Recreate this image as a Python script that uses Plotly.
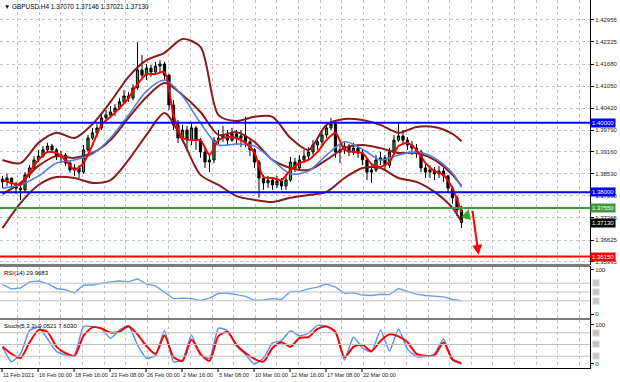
import plotly.graph_objects as go

# ---------------- data (GBPUSD H4, each candle = 2 H4 bars) ----------------
first_open = 1.3838
close = [1.3830, 1.3841, 1.3824, 1.3812, 1.3807, 1.3850, 1.3870, 1.3893, 1.3904, 1.3922,
         1.3933, 1.3922, 1.3902, 1.3907, 1.3884, 1.3864, 1.3870, 1.3858, 1.3922, 1.3956,
         1.3971, 1.3985, 1.4014, 1.4022, 1.4031, 1.4042, 1.4060, 1.4077, 1.4071, 1.4100,
         1.4152, 1.4137, 1.4157, 1.4146, 1.4163, 1.4169, 1.4137, 1.4051, 1.3994, 1.3956,
         1.3979, 1.3950, 1.3985, 1.3950, 1.3916, 1.3887, 1.3893, 1.3950, 1.3956, 1.3965,
         1.3950, 1.3968, 1.3956, 1.3962, 1.3945, 1.3922, 1.3887, 1.3841, 1.3827, 1.3835,
         1.3821, 1.3832, 1.3818, 1.3835, 1.3887, 1.3870, 1.3893, 1.3904, 1.3916, 1.3936,
         1.3945, 1.3965, 1.3985, 1.3996, 1.3916, 1.3922, 1.3933, 1.3916, 1.3927, 1.3913,
         1.3893, 1.3858, 1.3864, 1.3893, 1.3899, 1.3878, 1.3916, 1.3950, 1.3962, 1.3950,
         1.3936, 1.3927, 1.3916, 1.3870, 1.3858, 1.3864, 1.3853, 1.3861, 1.3847, 1.3812,
         1.3784, 1.3749, 1.3713]
high = [1.3847, 1.3853, 1.3841, 1.3830, 1.3824, 1.3858, 1.3878, 1.3904, 1.3922, 1.3933,
        1.3942, 1.3939, 1.3927, 1.3919, 1.3913, 1.3890, 1.3881, 1.3878, 1.3936, 1.3965,
        1.3985, 1.3996, 1.4025, 1.4037, 1.4048, 1.4054, 1.4071, 1.4094, 1.4088, 1.4111,
        1.4232, 1.4195, 1.4169, 1.4166, 1.4175, 1.4180, 1.4175, 1.4140, 1.4065, 1.4008,
        1.3994, 1.3991, 1.4002, 1.3991, 1.3956, 1.3927, 1.3907, 1.3959, 1.3979, 1.3991,
        1.3979, 1.3985, 1.3979, 1.3979, 1.4017, 1.3956, 1.3927, 1.3893, 1.3850, 1.3847,
        1.3841, 1.3847, 1.3841, 1.3853, 1.3902, 1.3899, 1.3907, 1.3922, 1.3930, 1.3950,
        1.3959, 1.3979, 1.3996, 1.4014, 1.4002, 1.3936, 1.3945, 1.3939, 1.3942, 1.3936,
        1.3922, 1.3899, 1.3878, 1.3907, 1.3916, 1.3907, 1.3927, 1.3965, 1.3999, 1.3979,
        1.3959, 1.3948, 1.3939, 1.3922, 1.3884, 1.3878, 1.3873, 1.3876, 1.3870, 1.3850,
        1.3818, 1.3789, 1.3761]
low = [1.3812, 1.3818, 1.3812, 1.3795, 1.3778, 1.3801, 1.3841, 1.3864, 1.3887, 1.3899,
       1.3916, 1.3913, 1.3893, 1.3884, 1.3876, 1.3856, 1.3847, 1.3841, 1.3853, 1.3916,
       1.3950, 1.3959, 1.3979, 1.4005, 1.4014, 1.4019, 1.4037, 1.4054, 1.4060, 1.4065,
       1.4094, 1.4129, 1.4123, 1.4132, 1.4137, 1.4146, 1.4123, 1.4037, 1.3979, 1.3942,
       1.3945, 1.3927, 1.3936, 1.3922, 1.3899, 1.3870, 1.3858, 1.3884, 1.3939, 1.3945,
       1.3936, 1.3945, 1.3936, 1.3930, 1.3930, 1.3904, 1.3870, 1.3784, 1.3807, 1.3812,
       1.3807, 1.3812, 1.3807, 1.3807, 1.3830, 1.3858, 1.3864, 1.3884, 1.3893, 1.3907,
       1.3922, 1.3936, 1.3956, 1.3979, 1.3899, 1.3884, 1.3910, 1.3904, 1.3907, 1.3899,
       1.3878, 1.3835, 1.3827, 1.3858, 1.3878, 1.3864, 1.3870, 1.3907, 1.3945, 1.3936,
       1.3922, 1.3907, 1.3899, 1.3858, 1.3841, 1.3841, 1.3835, 1.3841, 1.3830, 1.3801,
       1.3766, 1.3732, 1.3697]

# fast MA (red), sampled every 2 candles
ma_fast = [1.3835, 1.3827, 1.3821, 1.3858, 1.3893, 1.3916, 1.3913, 1.3893, 1.3864, 1.3884,
           1.3936, 1.3994, 1.4017, 1.4042, 1.4071, 1.4111, 1.4140, 1.4140, 1.4146, 1.4022,
           1.3956, 1.3950, 1.3950, 1.3907, 1.3950, 1.3959, 1.3956, 1.3942, 1.3913, 1.3844,
           1.3841, 1.3835, 1.3864, 1.3884, 1.3893, 1.3916, 1.3950, 1.3971, 1.3922, 1.3916,
           1.3913, 1.3881, 1.3873, 1.3887, 1.3933, 1.3942, 1.3922, 1.3884, 1.3861, 1.3850,
           1.3812, 1.3743]
# slower lines sampled every 4 candles (+ last candle)
ma_slow = [1.3812, 1.3821, 1.3847, 1.3884, 1.3893, 1.3910, 1.3956, 1.4022, 1.4091, 1.4123,
           1.4077, 1.3999, 1.3936, 1.3939, 1.3933, 1.3893, 1.3853, 1.3861, 1.3907, 1.3945,
           1.3924, 1.3893, 1.3907, 1.3916, 1.3899, 1.3855, 1.3815]
bb_upper = [1.3893, 1.3884, 1.3942, 1.3971, 1.3956, 1.3996, 1.4060, 1.4132, 1.4180, 1.4201,
            1.4241, 1.4218, 1.4022, 1.4005, 1.4017, 1.4017, 1.3956, 1.3922, 1.3994, 1.4011,
            1.4008, 1.3994, 1.3971, 1.3988, 1.3988, 1.3968, 1.3947]
bb_middle = [1.3795, 1.3827, 1.3876, 1.3904, 1.3899, 1.3913, 1.3950, 1.4014, 1.4074, 1.4114,
             1.4080, 1.4031, 1.3965, 1.3973, 1.3945, 1.3893, 1.3870, 1.3864, 1.3893, 1.3927,
             1.3936, 1.3927, 1.3913, 1.3913, 1.3893, 1.3850, 1.3818]
bb_lower = [1.3697, 1.3769, 1.3821, 1.3844, 1.3841, 1.3827, 1.3835, 1.3893, 1.3965, 1.4028,
            1.3950, 1.3850, 1.3821, 1.3789, 1.3778, 1.3772, 1.3784, 1.3792, 1.3801, 1.3841,
            1.3870, 1.3870, 1.3841, 1.3830, 1.3801, 1.3755, 1.3715]

rsi = [67, 57, 59, 73, 75, 69, 58, 55, 48, 66,
       66, 70, 73, 75, 73, 80, 68, 64, 50, 35,
       36, 35, 31, 36, 47, 47, 44, 40, 31, 32,
       35, 33, 51, 51, 57, 61, 68, 61, 47, 48,
       43, 42, 45, 44, 58, 52, 45, 42, 40, 39,
       33, 30]
stoch_k = [44, 6, 26, 85, 95, 64, 32, 23, 23, 96,
           96, 91, 66, 87, 98, 49, 15, 21, 86, 6,
           10, 74, 23, 14, 92, 85, 46, 24, 0, 15,
           54, 60, 85, 72, 79, 99, 97, 83, 10, 69,
           41, 31, 87, 33, 90, 38, 19, 19, 26, 64,
           10, 0]
stoch_d = [44, 26, 15, 55, 87, 82, 44, 28, 21, 72,
           94, 91, 81, 83, 97, 76, 46, 26, 73, 18,
           8, 62, 26, 8, 72, 82, 49, 28, 13, 6,
           41, 56, 44, 67, 69, 90, 96, 82, 17, 44,
           49, 33, 59, 76, 71, 56, 26, 21, 22, 55,
           12, 2]

levels = [1.40000, 1.38000, 1.37550, 1.36150]
level_colors = ["#0000ff", "#0000ff", "#3c9a3c", "#ff0000"]
last_price = 1.37130
price_ticks = [1.42955, 1.42325, 1.41680, 1.41050, 1.40420, 1.39790, 1.39160,
               1.38530, 1.37900, 1.37265, 1.36625, 1.35995]
time_labels = ["11 Feb 2021", "16 Feb 00:00", "18 Feb 16:00", "23 Feb 08:00", "26 Feb 00:00",
               "2 Mar 16:00", "5 Mar 08:00", "10 Mar 00:00", "12 Mar 16:00", "17 Mar 08:00",
               "22 Mar 00:00"]
time_label_bars = [0, 8, 16, 24, 32, 40, 48, 56, 64, 72, 80]
rsi_levels = [70, 50, 30]
stoch_levels = [80, 50, 20]
title_text = "▼ GBPUSD.H4 1.37070 1.37146 1.37021 1.37130"
rsi_text = "RSI(14) 29.9683"
stoch_text = "Stoch(5,3,3) 9.0521 7.6030"
# forecast arrows (tail -> head), in bar / price units
green_arrow = ((102.9, 1.3719), (103.6, 1.3752))
red_arrow = ((104.4, 1.3751), (105.8, 1.3620))

# ---------------- derived ----------------
n = len(close)
bars = list(range(n))
opens = [first_open] + close[:-1]
ind_x = list(range(0, n, 2))
band_x = list(range(0, n - 2, 4)) + [n - 1]

FONT = "Liberation Sans, Arial, sans-serif"
MAROON = "#8b1a1a"
W, H = 620, 382
PH = 368.0  # plot height in px


def dom(top_px, bot_px):
    return [(PH - bot_px) / PH, (PH - top_px) / PH]


xr = [-0.556, 130.56]
grid_k = [3.36 + 4.8 * i for i in range(27)]

fig = go.Figure()
fig.add_trace(go.Candlestick(
    x=bars, open=opens, high=high, low=low, close=close,
    increasing=dict(line=dict(color="black", width=1), fillcolor="#2f9a2f"),
    decreasing=dict(line=dict(color="black", width=1), fillcolor="black"),
    whiskerwidth=0, showlegend=False, hoverinfo="skip", xaxis="x", yaxis="y"))

for ys in (bb_upper, bb_middle, bb_lower):
    fig.add_trace(go.Scatter(x=band_x, y=ys, mode="lines", showlegend=False,
                             line=dict(color=MAROON, width=2, shape="spline", smoothing=0.8),
                             xaxis="x", yaxis="y", hoverinfo="skip"))
fig.add_trace(go.Scatter(x=band_x, y=ma_slow, mode="lines", showlegend=False,
                         line=dict(color="#4f7fe6", width=1.6, shape="spline", smoothing=0.8),
                         xaxis="x", yaxis="y", hoverinfo="skip"))
fig.add_trace(go.Scatter(x=ind_x, y=ma_fast, mode="lines", showlegend=False,
                         line=dict(color="#ff0000", width=2, shape="spline", smoothing=0.6),
                         xaxis="x", yaxis="y", hoverinfo="skip"))

fig.add_trace(go.Scatter(x=ind_x, y=rsi, mode="lines", showlegend=False,
                         line=dict(color="#6c9cf0", width=1.4),
                         xaxis="x2", yaxis="y2", hoverinfo="skip"))
fig.add_trace(go.Scatter(x=ind_x, y=stoch_k, mode="lines", showlegend=False,
                         line=dict(color="#5b8fef", width=1.5, shape="spline", smoothing=0.5),
                         xaxis="x3", yaxis="y3", hoverinfo="skip"))
fig.add_trace(go.Scatter(x=ind_x, y=stoch_d, mode="lines", showlegend=False,
                         line=dict(color="#ff0000", width=2, shape="spline", smoothing=0.7),
                         xaxis="x3", yaxis="y3", hoverinfo="skip"))

xcommon = dict(range=xr, tickmode="array", tickvals=grid_k, showticklabels=False, ticks="",
               showgrid=True, gridcolor="#c4c4c4", griddash="dot", gridwidth=1,
               zeroline=False, showline=True, linecolor="black", linewidth=1, mirror=True,
               fixedrange=True, automargin=False)
ycommon = dict(side="right", tickmode="array", ticks="outside", ticklen=3, tickcolor="black",
               tickfont=dict(size=6, color="#222", family=FONT), zeroline=False,
               showline=True, linecolor="black", mirror=True, automargin=False)

fig.update_layout(
    width=W, height=H, margin=dict(l=0, r=30, t=0, b=14, autoexpand=False),
    paper_bgcolor="white", plot_bgcolor="white",
    font=dict(family=FONT, size=6, color="black"),
    showlegend=False,
    xaxis=dict(domain=[0, 1], anchor="y", rangeslider=dict(visible=False), **xcommon),
    xaxis2=dict(domain=[0, 1], anchor="y2", **xcommon),
    xaxis3=dict(domain=[0, 1], anchor="y3", **xcommon),
    yaxis=dict(domain=dom(0, 264), anchor="x", range=[1.35937, 1.4353],
               tickvals=price_ticks, ticktext=[f"{v:.5f}" for v in price_ticks],
               showgrid=True, gridcolor="#c4c4c4", griddash="dot", **ycommon),
    yaxis2=dict(domain=dom(267, 318), anchor="x2", range=[-9.1, 106.8],
                tickvals=[100, 0], ticktext=["100", "0"], showgrid=False, **ycommon),
    yaxis3=dict(domain=dom(320, 368), anchor="x3", range=[-10.3, 112.8],
                tickvals=[100, 0], ticktext=["100", "0"], showgrid=False, **ycommon),
)

shapes = []
# horizontal support / resistance levels
for lv, col in zip(levels, level_colors):
    shapes.append(dict(type="line", xref="x domain", yref="y", x0=0, x1=1, y0=lv, y1=lv,
                       line=dict(color=col, width=2)))
# indicator level lines
for lv in rsi_levels:
    shapes.append(dict(type="line", xref="x2 domain", yref="y2", x0=0, x1=1, y0=lv, y1=lv,
                       line=dict(color="#c0c0c0", width=1)))
for lv in stoch_levels:
    shapes.append(dict(type="line", xref="x3 domain", yref="y3", x0=0, x1=1, y0=lv, y1=lv,
                       line=dict(color="#c0c0c0", width=1)))
# pane separators
for a, b in ((264, 267), (318, 320)):
    d = dom(a, b)
    shapes.append(dict(type="rect", xref="paper", yref="paper", x0=0, x1=1.0, y0=d[0], y1=d[1],
                       fillcolor="#7a7a7a", line=dict(width=0), layer="above"))
# time tick marks
for b in time_label_bars:
    shapes.append(dict(type="line", xref="x3", yref="paper", x0=b - 0.1, x1=b - 0.1,
                       y0=0, y1=-4 / PH, line=dict(color="black", width=1)))
fig.update_layout(shapes=shapes)

ann = []
ann.append(dict(xref="paper", yref="paper", x=0.003, y=1, xanchor="left", yanchor="top",
                yshift=-1, text=title_text, showarrow=False,
                font=dict(size=6.4, color="black", family=FONT)))
ann.append(dict(xref="paper", yref="y2 domain", x=0.003, y=1, xanchor="left", yanchor="top",
                yshift=-1, text=rsi_text, showarrow=False,
                font=dict(size=6, color="black", family=FONT)))
ann.append(dict(xref="paper", yref="y3 domain", x=0.003, y=1, xanchor="left", yanchor="top",
                yshift=-1, text=stoch_text, showarrow=False,
                font=dict(size=6, color="black", family=FONT)))
for lab, b in zip(time_labels, time_label_bars):
    ann.append(dict(xref="x3", yref="paper", x=b - 0.1, y=-7 / PH, xanchor="left",
                    yanchor="middle", xshift=-1, text=lab, showarrow=False,
                    font=dict(size=5.6, color="#222", family=FONT)))
# price boxes on the right axis
for lv, col in list(zip(levels, level_colors)) + [(last_price, "#000000")]:
    ann.append(dict(xref="paper", yref="y", x=1, y=lv, xanchor="left", yanchor="middle",
                    xshift=0, text=f"{lv:.5f}", showarrow=False, bgcolor=col,
                    borderpad=1, font=dict(size=6, color="white", family=FONT)))
for lv in rsi_levels:
    ann.append(dict(xref="paper", yref="y2", x=1, y=lv, xanchor="left", yanchor="middle",
                    xshift=2, text=str(lv), showarrow=False, bgcolor="#cfcfcf",
                    borderpad=0, font=dict(size=5, color="#b0b0b0", family=FONT)))
for lv in stoch_levels:
    ann.append(dict(xref="paper", yref="y3", x=1, y=lv, xanchor="left", yanchor="middle",
                    xshift=2, text=str(lv), showarrow=False, bgcolor="#cfcfcf",
                    borderpad=0, font=dict(size=5, color="#b0b0b0", family=FONT)))
# forecast arrows
for (tail, head), col in ((green_arrow, "#33a833"), (red_arrow, "#ff0000")):
    ann.append(dict(xref="x", yref="y", axref="x", ayref="y", x=head[0], y=head[1],
                    ax=tail[0], ay=tail[1], text="", showarrow=True, arrowhead=2,
                    arrowsize=1, arrowwidth=2, arrowcolor=col))
fig.update_layout(annotations=ann)

fig.write_html("out.html", config={"displayModeBar": False},
               post_script="document.body.style.margin='0';document.body.style.overflow='hidden';")
